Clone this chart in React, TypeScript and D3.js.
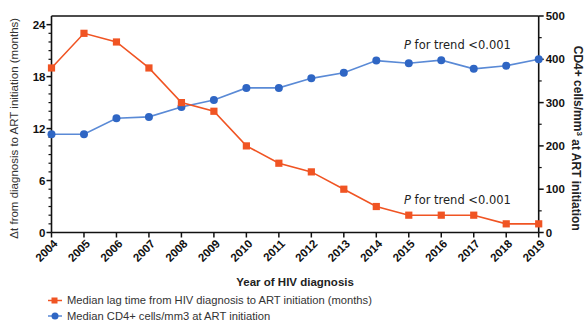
import React from "react";
import * as d3 from "d3";

const years = [2004, 2005, 2006, 2007, 2008, 2009, 2010, 2011, 2012, 2013, 2014, 2015, 2016, 2017, 2018, 2019];
const lagMonths = [19, 23, 22, 19, 15, 14, 10, 8, 7, 5, 3, 2, 2, 2, 1, 1];
const cd4Cells = [227, 227, 264, 267, 290, 306, 334, 334, 356, 369, 397, 391, 398, 378, 385, 400];
const leftTicks = [0, 6, 12, 18, 24];
const rightTicks = [0, 100, 200, 300, 400, 500];

const W = 587, H = 325;
const M = { left: 51.5, right: 538.7, top: 16, bottom: 232.5 };
const ORANGE = "#f05423";
const BLUE = "#2f66c4";
const BLUE_LINE = "#5a8ad6";

export default function App() {
  const x = d3.scaleLinear().domain([2004, 2019]).range([M.left, M.right]);
  const yL = d3.scaleLinear().domain([0, 25]).range([M.bottom, M.top]);
  const yR = d3.scaleLinear().domain([0, 500]).range([M.bottom, M.top]);
  const lagLine = d3.line<number>().x((_, i) => x(years[i])).y((d) => yL(d))(lagMonths) || "";
  const cd4Line = d3.line<number>().x((_, i) => x(years[i])).y((d) => yR(d))(cd4Cells) || "";
  const minorL = d3.range(0, 25, 1).filter((v) => v % 6 !== 0);
  const minorR = d3.range(50, 500, 100);
  const font = "Liberation Sans, Arial, sans-serif";

  return (
    <svg width={W} height={H} style={{ position: "absolute", left: 0, top: 0 }} fontFamily={font}>
      <rect width={W} height={H} fill="#fff" />
      {/* frame */}
      <line x1={M.left} x2={M.right} y1={M.top} y2={M.top} stroke="#111" strokeWidth={1.6} />
      <line x1={M.left} x2={M.right} y1={M.bottom} y2={M.bottom} stroke="#111" strokeWidth={1.6} />
      <line x1={M.left} x2={M.left} y1={M.top} y2={M.bottom} stroke="#111" strokeWidth={1.6} />
      <line x1={M.right} x2={M.right} y1={M.top} y2={M.bottom} stroke="#111" strokeWidth={1.6} />
      {/* left ticks */}
      {minorL.map((v) => (
        <line key={"ml" + v} x1={M.left - 3} x2={M.left} y1={yL(v)} y2={yL(v)} stroke="#111" strokeWidth={1.2} />
      ))}
      {leftTicks.map((v) => (
        <g key={"l" + v}>
          <line x1={M.left - 5} x2={M.left} y1={yL(v)} y2={yL(v)} stroke="#111" strokeWidth={1.5} />
          <text x={M.left - 6} y={yL(v)} dy="0.35em" textAnchor="end" fontSize={11.5} fontWeight="bold" fill="#111">{v}</text>
        </g>
      ))}
      {/* right ticks */}
      {minorR.map((v) => (
        <line key={"mr" + v} x1={M.right} x2={M.right + 3} y1={yR(v)} y2={yR(v)} stroke="#111" strokeWidth={1.2} />
      ))}
      {rightTicks.map((v) => (
        <g key={"r" + v}>
          <line x1={M.right} x2={M.right + 5} y1={yR(v)} y2={yR(v)} stroke="#111" strokeWidth={1.5} />
          <text x={M.right + 7} y={yR(v)} dy="0.35em" textAnchor="start" fontSize={11.5} fontWeight="bold" fill="#111">{v}</text>
        </g>
      ))}
      {/* x ticks */}
      {years.map((yr) => (
        <g key={"x" + yr}>
          <line x1={x(yr)} x2={x(yr)} y1={M.bottom} y2={M.bottom + 5} stroke="#111" strokeWidth={1.5} />
          <text transform={`translate(${x(yr) + 4},${M.bottom + 9}) rotate(-45)`} textAnchor="end" dy="0.35em" fontSize={11.5} fontWeight="bold" fill="#111">{yr}</text>
        </g>
      ))}
      {/* series */}
      <path d={cd4Line} fill="none" stroke={BLUE_LINE} strokeWidth={1.6} />
      <path d={lagLine} fill="none" stroke={ORANGE} strokeWidth={1.6} />
      {cd4Cells.map((v, i) => (
        <circle key={"c" + i} cx={x(years[i])} cy={yR(v)} r={4} fill={BLUE} />
      ))}
      {lagMonths.map((v, i) => (
        <rect key={"s" + i} x={x(years[i]) - 3.6} y={yL(v) - 3.6} width={7.2} height={7.2} fill={ORANGE} />
      ))}
      {/* annotations */}
      <text x={404} y={49} fontSize={11.5} fill="#222" fontFamily="DejaVu Sans, sans-serif"><tspan fontStyle="italic">P</tspan> for trend &lt;0.001</text>
      <text x={404} y={204} fontSize={11.5} fill="#222" fontFamily="DejaVu Sans, sans-serif"><tspan fontStyle="italic">P</tspan> for trend &lt;0.001</text>
      {/* axis titles */}
      <text transform={`translate(14,${(M.top + M.bottom) / 2 + 4}) rotate(-90)`} textAnchor="middle" dy="0.35em" fontSize={11.5} fill="#333">Δt from diagnosis to ART initiation (months)</text>
      <text transform={`translate(578,${(M.top + M.bottom) / 2 + 14}) rotate(90)`} textAnchor="middle" dy="0.35em" fontSize={12} fontWeight="bold" fill="#222">
        CD4+ cells/mm<tspan dy="-0.4em" fontSize={8}>3</tspan><tspan dy="0.4em"> at ART initiation</tspan>
      </text>
      <text x={(M.left + M.right) / 2} y={281.5} dy="0.35em" textAnchor="middle" fontSize={11.5} fontWeight="bold" fill="#222">Year of HIV diagnosis</text>
      {/* legend */}
      <line x1={48} x2={62} y1={300.5} y2={300.5} stroke={ORANGE} strokeWidth={1.5} />
      <rect x={51.5} y={297.5} width={6} height={6} fill={ORANGE} />
      <text x={67} y={300.5} dy="0.35em" fontSize={11.2} fill="#333">Median lag time from HIV diagnosis to ART initiation (months)</text>
      <line x1={48} x2={62} y1={316} y2={316} stroke={BLUE_LINE} strokeWidth={1.5} />
      <circle cx={55} cy={316} r={3.5} fill={BLUE} />
      <text x={67} y={316} dy="0.35em" fontSize={11.2} fill="#333">Median CD4+ cells/mm3 at ART initiation</text>
    </svg>
  );
}
